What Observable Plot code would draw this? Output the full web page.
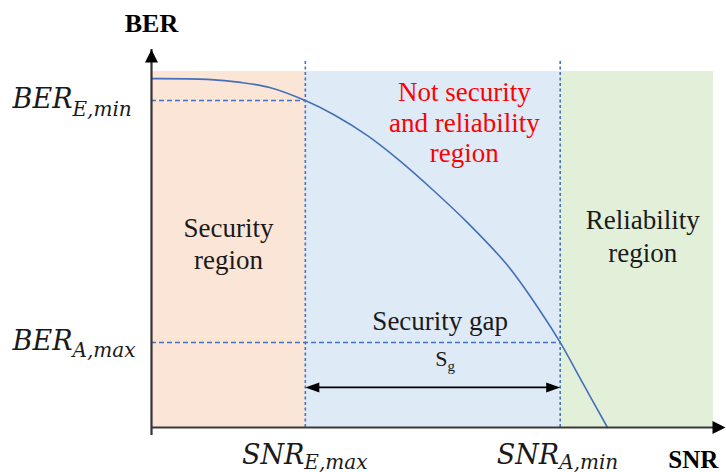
<!DOCTYPE html>
<html><head><meta charset="utf-8">
<script src="https://cdn.jsdelivr.net/npm/d3@7"></script>
<script src="https://cdn.jsdelivr.net/npm/@observablehq/plot@0.6"></script>
<style>html,body{margin:0;padding:0;background:#fff;} svg{display:block}</style>
</head><body><div id="chart"></div>
<script>
// ---- data ----
const snr = [0, 0.976, 1.551, 2.073, 2.68, 3.171, 3.763, 4.338, 4.913, 5.505, 6.202, 6.777, 7.12, 7.526, 7.944];
const ber = [0.923, 0.921, 0.913, 0.899, 0.865, 0.828, 0.772, 0.704, 0.627, 0.542, 0.429, 0.307, 0.225, 0.114, 0];
const regionNames = ["Security\nregion", "Not security\nand reliability\nregion", "Reliability\nregion"];
const regionStart = [0, 2.68, 7.12];
const regionEnd = [2.68, 7.12, 9.79];
const regionTop = 0.942;
const snrTicks = [2.68, 7.12];
const snrTickBase = ["SNR", "SNR"];
const snrTickSub = ["E,max", "A,min"];
const berTicks = [0.865, 0.225];
const berTickBase = ["BER", "BER"];
const berTickSub = ["E,min", "A,max"];
const gapLabel = "Security gap";
const gapSymbol = "S";
const gapSub = "g";
const axisTitles = ["BER", "SNR"];
const axisEnd = {snr: 10, ber: 1};

// ---- styles ----
const regionFill = ["#fbe5d6", "#deebf7", "#e2f0d9"];
const blue = "#4472c4";
const serif = "Liberation Serif, Times New Roman, serif";
const mathFont = "DejaVu Serif, serif";

const headUp = {draw(c) { c.moveTo(0, 0); c.lineTo(-6.5, 13); c.lineTo(6.5, 13); c.closePath(); }};
const headRight = {draw(c) { c.moveTo(0, 0); c.lineTo(-13, -6.5); c.lineTo(-13, 6.5); c.closePath(); }};
const gapRight = {draw(c) { c.moveTo(0, 0); c.lineTo(-14, -5); c.lineTo(-14, 5); c.closePath(); }};
const gapLeft = {draw(c) { c.moveTo(0, 0); c.lineTo(14, -5); c.lineTo(14, 5); c.closePath(); }};

const regions = regionNames.map((name, i) => ({name, x1: regionStart[i], x2: regionEnd[i], fill: regionFill[i]}));
const curve = snr.map((s, i) => ({s, b: ber[i]}));
const gapY = 0.106;

const chart = Plot.plot({
  width: 726, height: 472,
  marginLeft: 151, marginRight: 1, marginTop: 49, marginBottom: 45,
  x: {domain: [0, axisEnd.snr], axis: null},
  y: {domain: [0, axisEnd.ber], axis: null},
  color: {type: "identity"},
  style: {background: "white", overflow: "visible"},
  marks: [
    Plot.rect(regions, {x1: "x1", x2: "x2", y1: 0, y2: regionTop, fill: "fill"}),
    // dashed guides
    Plot.ruleX(snrTicks, {y1: 0, y2: 0.971, stroke: blue, strokeWidth: 1.6, strokeDasharray: "3,2.5"}),
    Plot.ruleY(berTicks, {x1: 0, x2: (d, i) => snrTicks[i], stroke: blue, strokeWidth: 1.6, strokeDasharray: "5,3"}),
    // curve
    Plot.line(curve, {x: "s", y: "b", curve: "catmull-rom", stroke: "#4470b8", strokeWidth: 1.6}),
    // axes
    Plot.ruleX([0], {y1: 0, y2: axisEnd.ber, insetTop: 8, stroke: "#333", strokeWidth: 2.2}),
    Plot.ruleY([0], {x1: 0, x2: axisEnd.snr, insetRight: 8, stroke: "#3a3a3a", strokeWidth: 2.2}),
    Plot.dot([0], {x: 0, y: axisEnd.ber, symbol: headUp, fill: "#000", stroke: "none"}),
    Plot.dot([0], {x: axisEnd.snr, y: 0, symbol: headRight, fill: "#000", stroke: "none"}),
    // security gap arrow
    Plot.ruleY([gapY], {x1: snrTicks[0], x2: snrTicks[1], insetLeft: 6, insetRight: 6, stroke: "#000", strokeWidth: 1.8}),
    Plot.dot([snrTicks[0]], {x: d => d, y: gapY, symbol: gapLeft, fill: "#000", stroke: "none"}),
    Plot.dot([snrTicks[1]], {x: d => d, y: gapY, symbol: gapRight, fill: "#000", stroke: "none"}),
    // region labels
    Plot.text([regions[0]], {x: d => (d.x1 + d.x2) / 2, y: 0.42, text: "name", lineAnchor: "bottom", lineHeight: 1.17, fontSize: 27, fontFamily: serif, fill: "#1a1a1a"}),
    Plot.text([regions[1]], {x: 5.45, y: 0.703, text: "name", lineAnchor: "bottom", lineHeight: 1.12, fontSize: 27, fontFamily: serif, fill: "#ff0000"}),
    Plot.text([regions[2]], {x: d => (d.x1 + d.x2) / 2, y: 0.439, dx: 6, text: "name", lineAnchor: "bottom", lineHeight: 1.2, fontSize: 27, fontFamily: serif, fill: "#1a1a1a"}),
    // gap labels
    Plot.text([gapLabel], {x: 5.03, y: 0.257, text: d => d, lineAnchor: "bottom", fontSize: 27, fontFamily: serif, fill: "#1a1a1a"}),
    Plot.text([gapSymbol], {x: 5.157, y: 0.164, text: d => d, textAnchor: "end", lineAnchor: "bottom", fontSize: 22, fontFamily: serif, fill: "#1a1a1a"}),
    Plot.text([gapSub], {x: 5.157, y: 0.164, dy: 5, text: d => d, textAnchor: "start", lineAnchor: "bottom", fontSize: 15, fontFamily: serif, fill: "#1a1a1a"}),
    // axis titles
    Plot.text([axisTitles[0]], {x: 0, y: 1.045, text: d => d, lineAnchor: "bottom", fontSize: 26, fontWeight: "bold", fontFamily: serif, fill: "#000"}),
    Plot.text([axisTitles[1]], {x: 9.44, y: -0.106, text: d => d, lineAnchor: "bottom", fontSize: 25, fontWeight: "bold", fontFamily: serif, fill: "#000"}),
    // BER tick labels
    Plot.text(berTicks, {x: 0, y: d => d, dx: -79, dy: 7.5, text: (d, i) => berTickBase[i], textAnchor: "end", lineAnchor: "bottom", fontSize: 27, fontStyle: "italic", fontFamily: mathFont, fill: "#1a1a1a"}),
    Plot.text(berTicks, {x: 0, y: d => d, dx: -79, dy: 15, text: (d, i) => berTickSub[i], textAnchor: "start", lineAnchor: "bottom", fontSize: 20, fontStyle: "italic", fontFamily: mathFont, fill: "#1a1a1a"}),
    // SNR tick labels
    Plot.text(snrTicks, {x: d => d, y: 0, dx: -1, dy: 36, text: (d, i) => snrTickBase[i], textAnchor: "end", lineAnchor: "bottom", fontSize: 27, fontStyle: "italic", fontFamily: mathFont, fill: "#1a1a1a"}),
    Plot.text(snrTicks, {x: d => d, y: 0, dx: -1, dy: 41, text: (d, i) => snrTickSub[i], textAnchor: "start", lineAnchor: "bottom", fontSize: 20, fontStyle: "italic", fontFamily: mathFont, fill: "#1a1a1a"})
  ]
});
document.getElementById("chart").append(chart);
</script>
</body></html>
